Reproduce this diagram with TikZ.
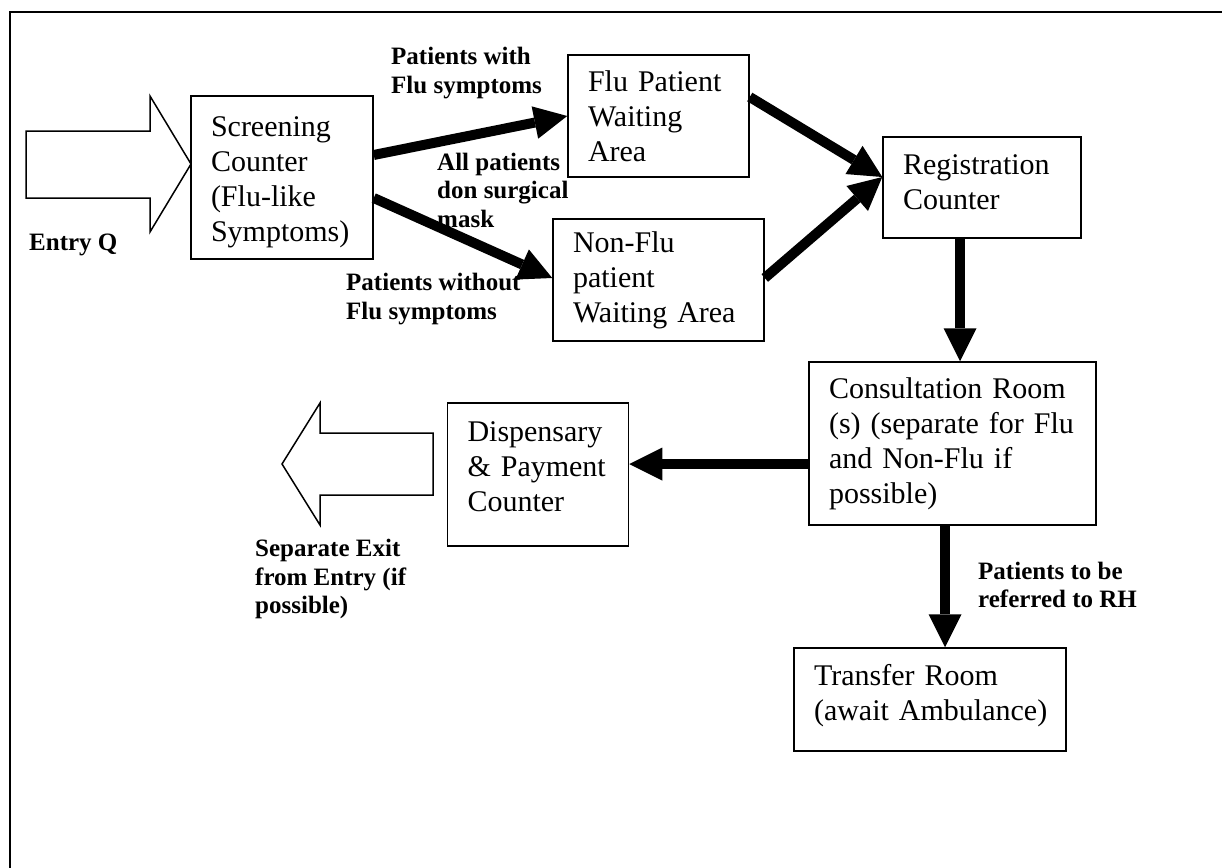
\documentclass[tikz,border=0pt]{standalone}
\usepackage{fontspec}
\setmainfont{Liberation Serif}
\usetikzlibrary{arrows.meta}
\tikzset{
  box/.style={draw, line width=1.5pt, align=left, inner xsep=20pt, inner ysep=0pt,
    font=\fontsize{30}{35}\selectfont},
  flow/.style={line width=10pt, -{Triangle[width=33pt,length=33pt,line width=0pt]}},
  lbl/.style={font=\bfseries\fontsize{25}{28.5}\selectfont, align=left, inner sep=0pt, anchor=west},
  bigarrow/.style={draw, line width=1.5pt, line join=miter, fill=white}
}
\begin{document}
\begin{tikzpicture}[x=1pt,y=-1pt]
\useasboundingbox (0,0) rectangle (1222,867);
% frame
\draw[line width=2pt] (10,868) -- (10,12.5) -- (1223,12.5);

% boxes
\node[box, text width=142pt, minimum height=163pt] (scr) at (282,177.5)
  {\mbox{}\\[-5pt]Screening\\Counter\\(Flu-like\\Symptoms)};
\node[box, text width=141pt, minimum height=122pt] (flu) at (658.5,116)
  {Flu Patient\\Waiting\\Area};
\node[box, text width=171pt, minimum height=122pt] (nonflu) at (658.5,280)
  {Non-Flu\\patient\\Waiting Area};
\node[box, text width=158pt, minimum height=101pt] (reg) at (982,187.5)
  {Registration\\Counter\\[-25pt]\mbox{}};
\node[box, text width=247pt, minimum height=163pt] (cons) at (952.5,443.5)
  {Consultation Room\\(s) (separate for Flu\\and Non-Flu if\\possible)};
\node[box, text width=141pt, minimum height=143pt] (disp) at (538,474.5)
  {Dispensary\\\& Payment\\Counter\\[-19pt]\mbox{}};
\node[box, text width=232pt, minimum height=103pt] (trans) at (930,699.5)
  {\mbox{Transfer Room}\\\mbox{(await Ambulance)}\\[-21.5pt]\mbox{}};

% entry and exit block arrows
\draw[bigarrow] (26,131) -- (150,131) -- (150,96) -- (191,164) -- (150,232) -- (150,198) -- (26,198) -- cycle;
\draw[bigarrow] (433,433) -- (320,433) -- (320,403) -- (282,464) -- (320,525) -- (320,495) -- (433,495) -- cycle;

% flow arrows
\draw[flow] ([yshift=22.5pt]scr.east) -- (flu.west);
\draw[flow] ([yshift=-20.5pt]scr.east) -- ([yshift=2pt]nonflu.west);
\draw[flow] ([yshift=19pt]flu.east) -- ([yshift=10.5pt]reg.west);
\draw[flow] ([yshift=2pt]nonflu.east) -- ([yshift=10.5pt]reg.west);
\coordinate (r1) at ([xshift=-22pt]reg.south);
\draw[flow] (r1) -- (r1 |- cons.north);
\coordinate (c1) at ([yshift=-20.5pt]cons.west);
\draw[flow] (c1) -- (disp.east |- c1);
\coordinate (c2) at ([xshift=-7.5pt]cons.south);
\draw[flow] (c2) -- (c2 |- trans.north);

% labels
\node[lbl] (lwith) at (391,73) {Patients with\\Flu symptoms};
\node[lbl] (lall) at (437,190) {All patients\\don surgical\\mask};
\node[lbl] (lwithout) at (346,299) {Patients without\\Flu symptoms};
\node[lbl] (lentry) at (29,245) {Entry Q};
\node[lbl] (lexit) at (255,579) {Separate Exit\\from Entry (if\\possible)};
\node[lbl] (lrh) at (978,585) {Patients to be\\referred to RH};
\end{tikzpicture}
\end{document}
